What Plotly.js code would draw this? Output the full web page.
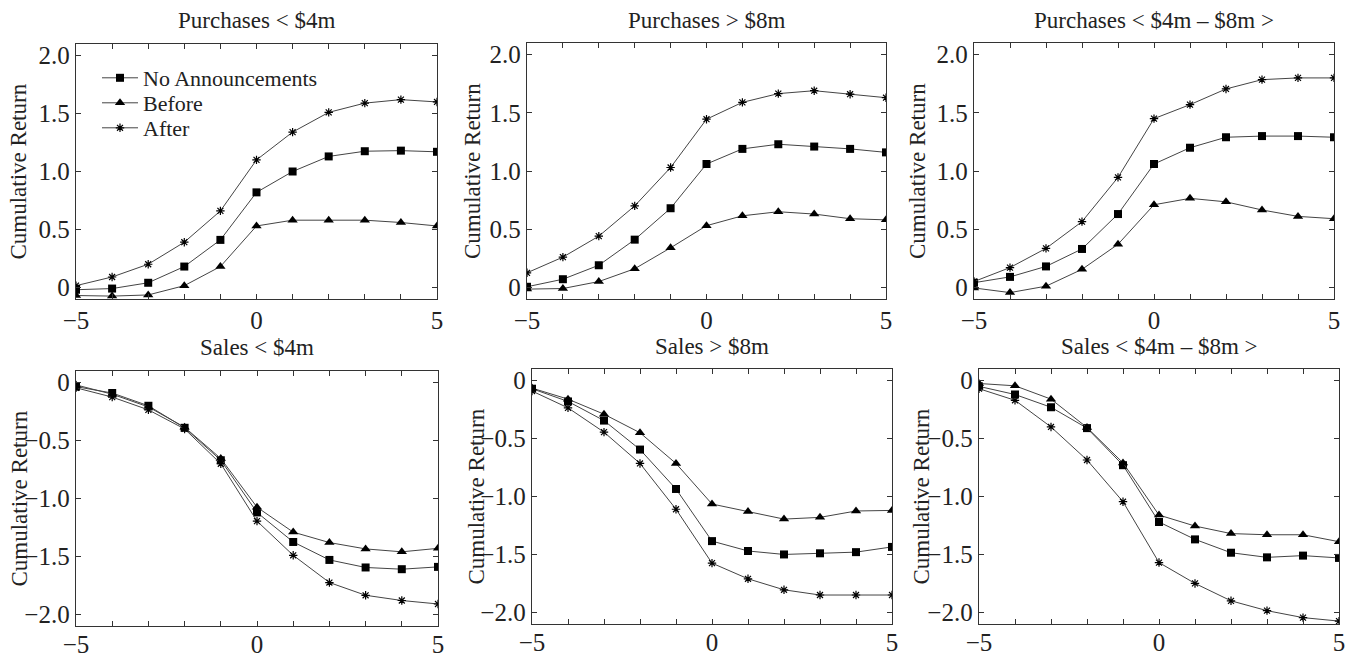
<!DOCTYPE html>
<html>
<head>
<meta charset="utf-8">
<script src="https://cdn.plot.ly/plotly-3.0.1.min.js"></script>
<style>html,body{margin:0;padding:0;background:#fff;}#chart{width:1355px;height:657px;}</style>
</head>
<body>
<div id="chart"></div>
<script>
// Event days
const days = [-5, -4, -3, -2, -1, 0, 1, 2, 3, 4, 5];

// Panel titles
const panelTitles = ["Purchases < $4m", "Purchases > $8m", "Purchases < $4m \u2013 $8m >",
                     "Sales < $4m", "Sales > $8m", "Sales < $4m \u2013 $8m >"];
const seriesNames = ["No Announcements", "Before", "After"];

// Purchases < $4m
const purSmallNoAnn  = [-0.02, -0.01, 0.04, 0.18, 0.41, 0.82, 1.00, 1.13, 1.175, 1.18, 1.17];
const purSmallBefore = [-0.07, -0.075, -0.065, 0.015, 0.18, 0.53, 0.58, 0.58, 0.58, 0.56, 0.53];
const purSmallAfter  = [0.015, 0.09, 0.20, 0.39, 0.66, 1.10, 1.34, 1.51, 1.59, 1.62, 1.60];
// Purchases > $8m
const purLargeNoAnn  = [0.005, 0.07, 0.19, 0.41, 0.68, 1.06, 1.19, 1.23, 1.21, 1.19, 1.16];
const purLargeBefore = [-0.015, -0.01, 0.05, 0.16, 0.34, 0.53, 0.615, 0.65, 0.63, 0.59, 0.58];
const purLargeAfter  = [0.125, 0.26, 0.44, 0.70, 1.03, 1.445, 1.59, 1.665, 1.69, 1.66, 1.63];
// Purchases $4m - $8m
const purMidNoAnn  = [0.04, 0.09, 0.18, 0.33, 0.63, 1.06, 1.20, 1.29, 1.30, 1.30, 1.29];
const purMidBefore = [-0.005, -0.045, 0.01, 0.155, 0.37, 0.71, 0.765, 0.735, 0.665, 0.61, 0.59];
const purMidAfter  = [0.05, 0.17, 0.335, 0.565, 0.945, 1.45, 1.57, 1.705, 1.785, 1.80, 1.80];
// Sales < $4m
const salSmallNoAnn  = [-0.035, -0.09, -0.20, -0.39, -0.67, -1.12, -1.375, -1.53, -1.595, -1.61, -1.59];
const salSmallBefore = [-0.02, -0.10, -0.21, -0.385, -0.655, -1.075, -1.29, -1.38, -1.435, -1.46, -1.43];
const salSmallAfter  = [-0.045, -0.125, -0.235, -0.40, -0.70, -1.195, -1.49, -1.725, -1.835, -1.88, -1.91];
// Sales > $8m
const salLargeNoAnn  = [-0.07, -0.18, -0.345, -0.595, -0.935, -1.385, -1.47, -1.50, -1.49, -1.48, -1.435];
const salLargeBefore = [-0.065, -0.16, -0.29, -0.45, -0.715, -1.065, -1.13, -1.195, -1.18, -1.125, -1.12];
const salLargeAfter  = [-0.09, -0.235, -0.445, -0.715, -1.11, -1.575, -1.71, -1.805, -1.85, -1.85, -1.85];
// Sales $4m - $8m
const salMidNoAnn  = [-0.05, -0.12, -0.23, -0.41, -0.73, -1.22, -1.37, -1.485, -1.525, -1.51, -1.53];
const salMidBefore = [-0.025, -0.045, -0.16, -0.405, -0.71, -1.16, -1.255, -1.32, -1.33, -1.33, -1.39];
const salMidAfter  = [-0.07, -0.17, -0.40, -0.685, -1.045, -1.57, -1.75, -1.90, -1.985, -2.045, -2.075];

// Tick labels
const xTickVals = days;
const xTickText = ["\u22125", "", "", "", "", "0", "", "", "", "", "5"];
const yTopVals = [0, 0.5, 1.0, 1.5, 2.0];
const yTopText = ["0", "0.5", "1.0", "1.5", "2.0"];
const yBotVals = [-2.0, -1.5, -1.0, -0.5, 0];
const yBotText = ["\u22122.0", "\u22121.5", "\u22121.0", "\u22120.5", "0"];

const panels = [
  [purSmallNoAnn, purSmallBefore, purSmallAfter],
  [purLargeNoAnn, purLargeBefore, purLargeAfter],
  [purMidNoAnn, purMidBefore, purMidAfter],
  [salSmallNoAnn, salSmallBefore, salSmallAfter],
  [salLargeNoAnn, salLargeBefore, salLargeAfter],
  [salMidNoAnn, salMidBefore, salMidAfter]
];

const W = 1355, H = 657;
// plot boxes in pixels [left, right, top, bottom]
const boxes = [
  [76, 437, 44, 299],
  [527, 886, 43, 299],
  [974, 1334, 43, 299],
  [76, 438, 371, 626],
  [532, 892, 369, 624],
  [979, 1339, 369, 624]
];
const titleY = [20, 20, 20, 347, 346, 346];
const yTitleX = [18, 473, 918, 19, 476, 921];
const legendRowY = [78, 103, 128];

const FONT = "Liberation Serif, Times New Roman, serif";
const markers = [
  {symbol: "square", size: 8, color: "#000"},
  {symbol: "triangle-up", size: 9, color: "#000"},
  {symbol: "asterisk-open", size: 7, color: "#000", line: {color: "#000", width: 1.2}}
];

const traces = [];
const layout = {
  width: W, height: H,
  margin: {l: 0, r: 0, t: 0, b: 0},
  paper_bgcolor: "#fff", plot_bgcolor: "#fff",
  font: {family: FONT, color: "#222", size: 22},
  showlegend: true,
  annotations: []
};
const legendIds = ["legend", "legend2", "legend3"];
legendIds.forEach((id, s) => {
  layout[id] = {
    x: 97 / W, y: 1 - legendRowY[s] / H, xanchor: "left", yanchor: "middle",
    bgcolor: "rgba(0,0,0,0)", borderwidth: 0, itemwidth: 36,
    font: {family: FONT, size: 22, color: "#222"}
  };
});

panels.forEach((series, i) => {
  const n = i + 1;
  const xa = "x" + (n === 1 ? "" : n), ya = "y" + (n === 1 ? "" : n);
  series.forEach((vals, s) => {
    const m = Object.assign({}, markers[s]);
    traces.push({
      x: days, y: vals, xaxis: xa, yaxis: ya,
      type: "scatter", mode: "lines+markers",
      name: seriesNames[s], legend: legendIds[s],
      showlegend: i === 0,
      line: {color: "#444", width: 1},
      marker: m
    });
  });
  const b = boxes[i];
  const top = i < 3;
  const axCommon = {
    showgrid: false, zeroline: false, showline: true, mirror: "ticks",
    linecolor: "#333", linewidth: 1.3,
    ticks: "inside", ticklen: 5, tickwidth: 1, tickcolor: "#333",
    tickfont: {family: FONT, size: 25, color: "#222"},
    fixedrange: true
  };
  layout["xaxis" + (n === 1 ? "" : n)] = Object.assign({}, axCommon, {
    domain: [b[0] / W, b[1] / W], anchor: ya,
    range: [-5, 5], tickmode: "array", tickvals: xTickVals, ticktext: xTickText,
    ticklabelstandoff: top ? -1 : -4
  });
  layout["yaxis" + (n === 1 ? "" : n)] = Object.assign({}, axCommon, {
    domain: [1 - b[3] / H, 1 - b[2] / H], anchor: xa,
    range: top ? [-0.1, 2.1] : [-2.1, 0.1],
    tickmode: "array", tickvals: top ? yTopVals : yBotVals, ticktext: top ? yTopText : yBotText
  });
  layout.annotations.push({
    text: panelTitles[i], xref: "paper", yref: "paper",
    x: (b[0] + b[1]) / 2 / W, y: 1 - titleY[i] / H,
    xanchor: "center", yanchor: "middle", showarrow: false,
    font: {family: FONT, size: 23, color: "#222"}
  });
  layout.annotations.push({
    text: "Cumulative Return", xref: "paper", yref: "paper",
    x: yTitleX[i] / W, y: 1 - (b[2] + b[3]) / 2 / H,
    xanchor: "center", yanchor: "middle", showarrow: false, textangle: -90,
    font: {family: FONT, size: 23, color: "#222"}
  });
});

Plotly.newPlot("chart", traces, layout, {displayModeBar: false, staticPlot: true});
</script>
</body>
</html>
